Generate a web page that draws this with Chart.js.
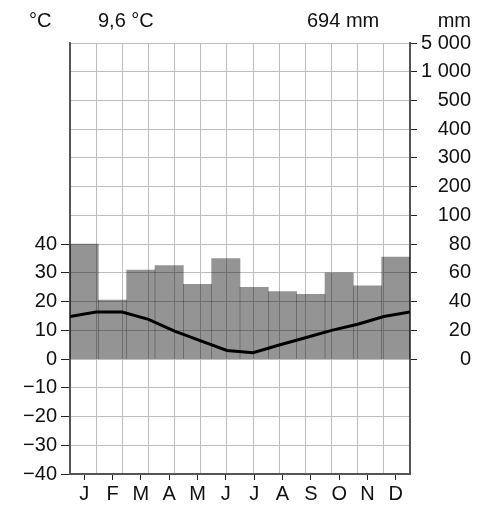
<!DOCTYPE html>
<html>
<head>
<meta charset="utf-8">
<script src="https://cdn.jsdelivr.net/npm/chart.js@4"></script>
<style>
  html, body { margin: 0; padding: 0; background: #fff; }
  #wrap { width: 494px; height: 524px; }
</style>
</head>
<body>
<div id="wrap"><canvas id="climateChart"></canvas></div>
<script>
const months = ['J', 'F', 'M', 'A', 'M', 'J', 'J', 'A', 'S', 'O', 'N', 'D']
const precipitation = [80, 41, 62, 65, 52, 70, 50, 47, 45, 60, 51, 71] // mm
const temperature = [16.4, 16.4, 13.8, 9.7, 6.3, 3.0, 2.2, 4.9, 7.4, 10.0, 12.1, 14.8] // °C
const meanTemp = '9,6 °C'
const totalPrecip = '694 mm'
// right axis labels above 100 mm are compressed
const mmUpperLabels = { 120: '200', 140: '300', 160: '400', 180: '500', 200: '1 000', 220: '5 000' }

const font = { family: 'Liberation Sans', size: 20 }

// repeat December before January and January after December so the curve runs edge to edge
const tempPoints = [{ x: -0.5, y: temperature[11] }]
    .concat(temperature.map((t, i) => ({ x: i + 0.5, y: t })))
    .concat([{ x: 12.5, y: temperature[0] }])

const headerText = {
    id: 'headerText',
    afterDraw(chart) {
        const c = chart.ctx
        c.save()
        c.fillStyle = '#111'
        c.font = '20px "Liberation Sans"'
        c.textBaseline = 'middle'
        c.textAlign = 'left'
        c.fillText('°C', 29, 21)
        c.fillText(meanTemp, 98, 21)
        c.fillText(totalPrecip, 307, 21)
        c.textAlign = 'right'
        c.fillText('mm', 471, 21)
        c.restore()
    }
}

const config = {
    type: 'bar',
    data: {
        labels: months,
        datasets: [{
            type: 'line',
            data: tempPoints,
            xAxisID: 'xt',
            yAxisID: 'y',
            borderColor: '#000',
            borderWidth: 3,
            pointRadius: 0,
            tension: 0,
            clip: 0,
            order: 0
        }, {
            type: 'bar',
            data: precipitation,
            xAxisID: 'x',
            yAxisID: 'y2',
            backgroundColor: 'rgba(0, 0, 0, 0.42)',
            borderWidth: 0,
            grouped: false,
            barPercentage: 1,
            categoryPercentage: 1,
            order: 1
        }]
    },
    options: {
        responsive: true,
        maintainAspectRatio: false,
        animation: false,
        layout: { padding: { top: 43, right: 23, bottom: 0, left: 0 } },
        plugins: {
            legend: { display: false },
            tooltip: { enabled: false }
        },
        scales: {
            x: {
                type: 'category',
                position: 'bottom',
                offset: true,
                afterFit: (s) => { s.height = 50 },
                grid: {
                    offset: false,
                    drawOnChartArea: false,
                    tickLength: 6,
                    tickColor: '#222'
                },
                border: { color: '#555', width: 2 },
                ticks: { color: '#111', font, padding: 2, maxRotation: 0, autoSkip: false }
            },
            xt: {
                type: 'linear',
                position: 'top',
                min: 0,
                max: 12,
                afterFit: (s) => { s.height = 0 },
                ticks: { display: false, stepSize: 1 },
                grid: { color: '#bdbdbd', drawTicks: false },
                border: { display: false }
            },
            y: {
                position: 'left',
                min: -40,
                max: 110,
                afterFit: (s) => { s.width = 70 },
                ticks: {
                    stepSize: 10,
                    autoSkip: false,
                    color: '#111',
                    font,
                    padding: 4,
                    callback: (v) => v > 40 ? '' : (v < 0 ? '\u2212' + Math.abs(v) : String(v))
                },
                grid: {
                    color: '#bdbdbd',
                    tickLength: 9,
                    tickColor: (ctx) => ctx.tick && ctx.tick.value <= 40 ? '#222' : 'transparent'
                },
                border: { color: '#555', width: 2 }
            },
            y2: {
                position: 'right',
                min: -80,
                max: 220,
                afterFit: (s) => { s.width = 61 },
                ticks: {
                    stepSize: 20,
                    autoSkip: false,
                    color: '#111',
                    font,
                    padding: 4,
                    crossAlign: 'far',
                    callback: (v) => v < 0 ? '' : (v <= 100 ? String(v) : mmUpperLabels[v])
                },
                grid: {
                    drawOnChartArea: false,
                    tickLength: 7,
                    tickColor: (ctx) => ctx.tick && ctx.tick.value >= 0 ? '#222' : 'transparent'
                },
                border: { color: '#555', width: 2 }
            }
        }
    },
    plugins: [headerText]
}

const ctx = document.getElementById('climateChart').getContext('2d')
const climateChart = new Chart(ctx, config)
</script>
</body>
</html>
